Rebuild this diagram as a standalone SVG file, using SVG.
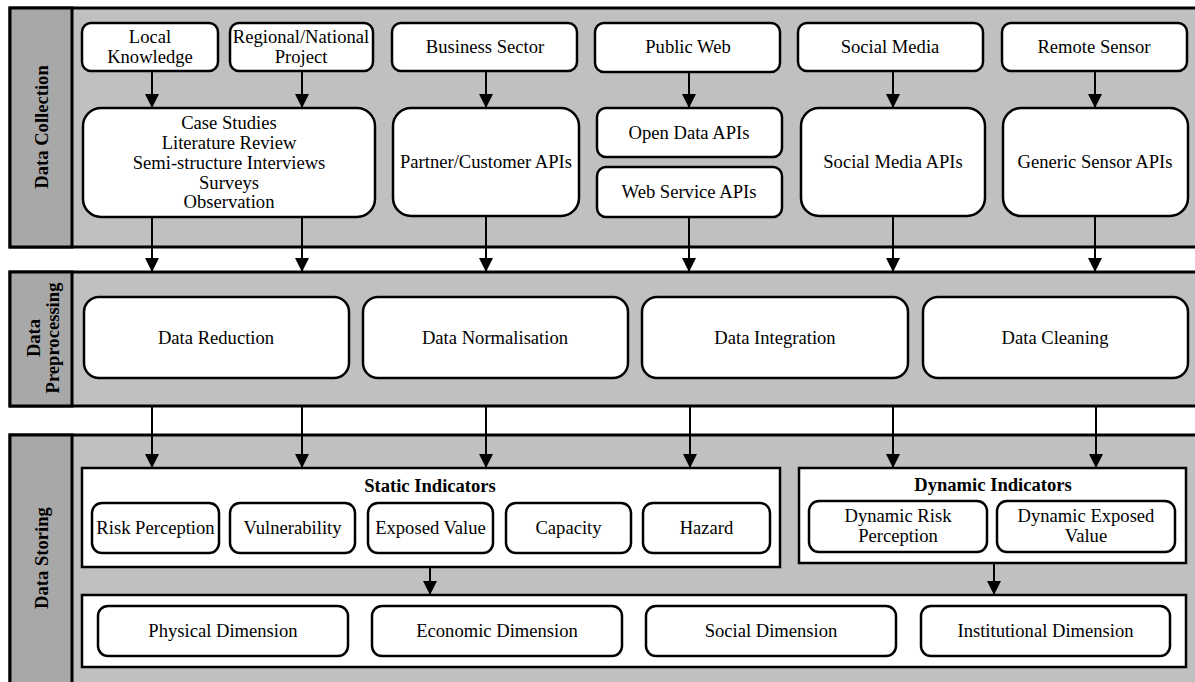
<svg xmlns="http://www.w3.org/2000/svg" width="1195" height="682" viewBox="0 0 1195 682">
<defs>
<style>
.sec{fill:#c0c0c0;stroke:#000;stroke-width:3}
.lab{fill:#a8a8a8;stroke:#000;stroke-width:3}
.box{fill:#fff;stroke:#000;stroke-width:2.5}
.cont{fill:#fff;stroke:#000;stroke-width:2.5}
text{font-family:'Liberation Serif','Times New Roman',Tinos,'DejaVu Serif',serif;font-size:18.6px;fill:#000;text-anchor:middle}
.b{font-weight:bold}
.a{stroke:#000;stroke-width:2;fill:none;marker-end:url(#ah)}
</style>
<marker id="ah" markerUnits="userSpaceOnUse" markerWidth="14" markerHeight="14" viewBox="0 0 14 14" refX="14" refY="7" orient="auto">
<path d="M0,0 L14,7 L0,14 z" fill="#000"/>
</marker>
</defs>

<g id="section-collection">
<rect class="sec" x="10" y="8" width="1200" height="239"/>
<rect class="lab" x="10" y="8" width="62" height="239"/>
<text class="b" transform="translate(48,127) rotate(-90)">Data Collection</text>
</g>
<g id="section-preprocessing">
<rect class="sec" x="10" y="272" width="1200" height="134"/>
<rect class="lab" x="10" y="272" width="62" height="134"/>
<text class="b" transform="translate(40,338) rotate(-90)">Data</text>
<text class="b" transform="translate(59,338) rotate(-90)">Preprocessing</text>
</g>
<g id="section-storing">
<rect class="sec" x="10" y="435" width="1200" height="260"/>
<rect class="lab" x="10" y="435" width="62" height="260"/>
<text class="b" transform="translate(48,558) rotate(-90)">Data Storing</text>
</g>

<g id="n-local"><rect class="box" x="82" y="23" width="136" height="48" rx="9"/><text x="150" y="43">Local</text><text x="150" y="63">Knowledge</text></g>
<g id="n-regional"><rect class="box" x="230" y="23" width="143" height="48" rx="9"/><text x="301" y="43">Regional/National</text><text x="301" y="63">Project</text></g>
<g id="n-business"><rect class="box" x="392" y="23" width="185" height="48" rx="9"/><text x="485" y="53">Business Sector</text></g>
<g id="n-publicweb"><rect class="box" x="595" y="23" width="185" height="49" rx="9"/><text x="688" y="53">Public Web</text></g>
<g id="n-socialmedia"><rect class="box" x="798" y="23" width="185" height="48" rx="9"/><text x="890" y="53">Social Media</text></g>
<g id="n-remote"><rect class="box" x="1002" y="23" width="185" height="48" rx="9"/><text x="1094" y="53">Remote Sensor</text></g>

<g id="n-methods"><rect class="box" x="83" y="108" width="292" height="109" rx="18"/>
<text x="229" y="129">Case Studies</text>
<text x="229" y="149">Literature Review</text>
<text x="229" y="168.5">Semi-structure Interviews</text>
<text x="229" y="188.5">Surveys</text>
<text x="229" y="208">Observation</text></g>
<g id="n-partner"><rect class="box" x="393" y="108" width="186" height="108" rx="18"/><text x="486" y="168">Partner/Customer APIs</text></g>
<g id="n-opendata"><rect class="box" x="597" y="108" width="185" height="49" rx="9"/><text x="689" y="138.5">Open Data APIs</text></g>
<g id="n-webservice"><rect class="box" x="597" y="167" width="185" height="50" rx="9"/><text x="689" y="198">Web Service APIs</text></g>
<g id="n-socialapis"><rect class="box" x="801" y="108" width="184" height="108" rx="18"/><text x="893" y="168">Social Media APIs</text></g>
<g id="n-sensorapis"><rect class="box" x="1003" y="108" width="185" height="108" rx="18"/><text x="1095" y="168">Generic Sensor APIs</text></g>

<g id="n-reduction"><rect class="box" x="84" y="297" width="265" height="81" rx="15"/><text x="216" y="343.5">Data Reduction</text></g>
<g id="n-normalisation"><rect class="box" x="363" y="297" width="265" height="81" rx="15"/><text x="495" y="343.5">Data Normalisation</text></g>
<g id="n-integration"><rect class="box" x="642" y="297" width="266" height="81" rx="15"/><text x="775" y="343.5">Data Integration</text></g>
<g id="n-cleaning"><rect class="box" x="923" y="297" width="265" height="81" rx="15"/><text x="1055" y="343.5">Data Cleaning</text></g>

<g id="n-static"><rect class="cont" x="82" y="468" width="698" height="99"/><text class="b" x="430" y="492">Static Indicators</text>
<g id="n-riskperception"><rect class="box" x="92" y="503" width="127" height="50" rx="10"/><text x="155.5" y="534">Risk Perception</text></g>
<g id="n-vulnerability"><rect class="box" x="230" y="503" width="125" height="50" rx="10"/><text x="292.5" y="534">Vulnerability</text></g>
<g id="n-exposed"><rect class="box" x="368" y="503" width="125" height="50" rx="10"/><text x="430.5" y="534">Exposed Value</text></g>
<g id="n-capacity"><rect class="box" x="506" y="503" width="125" height="50" rx="10"/><text x="568.5" y="534">Capacity</text></g>
<g id="n-hazard"><rect class="box" x="643" y="503" width="127" height="50" rx="10"/><text x="706.5" y="534">Hazard</text></g>
</g>
<g id="n-dynamic"><rect class="cont" x="799" y="468" width="387" height="95"/><text class="b" x="993" y="491">Dynamic Indicators</text>
<g id="n-dynrisk"><rect class="box" x="809" y="501" width="178" height="51" rx="10"/><text x="898" y="522">Dynamic Risk</text><text x="898" y="542">Perception</text></g>
<g id="n-dynexposed"><rect class="box" x="997" y="501" width="178" height="51" rx="10"/><text x="1086" y="522">Dynamic Exposed</text><text x="1086" y="542">Value</text></g>
</g>
<g id="n-dimensions"><rect class="cont" x="82" y="595" width="1104" height="72"/>
<g id="n-physical"><rect class="box" x="98" y="606" width="250" height="50" rx="10"/><text x="223" y="637">Physical Dimension</text></g>
<g id="n-economic"><rect class="box" x="372" y="606" width="250" height="50" rx="10"/><text x="497" y="637">Economic Dimension</text></g>
<g id="n-social"><rect class="box" x="646" y="606" width="250" height="50" rx="10"/><text x="771" y="637">Social Dimension</text></g>
<g id="n-institutional"><rect class="box" x="921" y="606" width="249" height="50" rx="10"/><text x="1045.5" y="637">Institutional Dimension</text></g>
</g>

<g id="connectors">
<line class="a" x1="152" y1="71" x2="152" y2="108"/>
<line class="a" x1="302" y1="71" x2="302" y2="108"/>
<line class="a" x1="486" y1="71" x2="486" y2="108"/>
<line class="a" x1="689" y1="72" x2="689" y2="108"/>
<line class="a" x1="893" y1="71" x2="893" y2="108"/>
<line class="a" x1="1095" y1="71" x2="1095" y2="108"/>
<line class="a" x1="152" y1="217" x2="152" y2="272"/>
<line class="a" x1="302" y1="217" x2="302" y2="272"/>
<line class="a" x1="486" y1="216" x2="486" y2="272"/>
<line class="a" x1="689" y1="217" x2="689" y2="272"/>
<line class="a" x1="893" y1="216" x2="893" y2="272"/>
<line class="a" x1="1095" y1="216" x2="1095" y2="272"/>
<line class="a" x1="152" y1="406" x2="152" y2="468"/>
<line class="a" x1="302" y1="406" x2="302" y2="468"/>
<line class="a" x1="486" y1="406" x2="486" y2="468"/>
<line class="a" x1="690" y1="406" x2="690" y2="468"/>
<line class="a" x1="893" y1="406" x2="893" y2="468"/>
<line class="a" x1="1096" y1="406" x2="1096" y2="468"/>
<line class="a" x1="430" y1="567" x2="430" y2="595"/>
<line class="a" x1="994" y1="563" x2="994" y2="595"/>
</g>
</svg>
